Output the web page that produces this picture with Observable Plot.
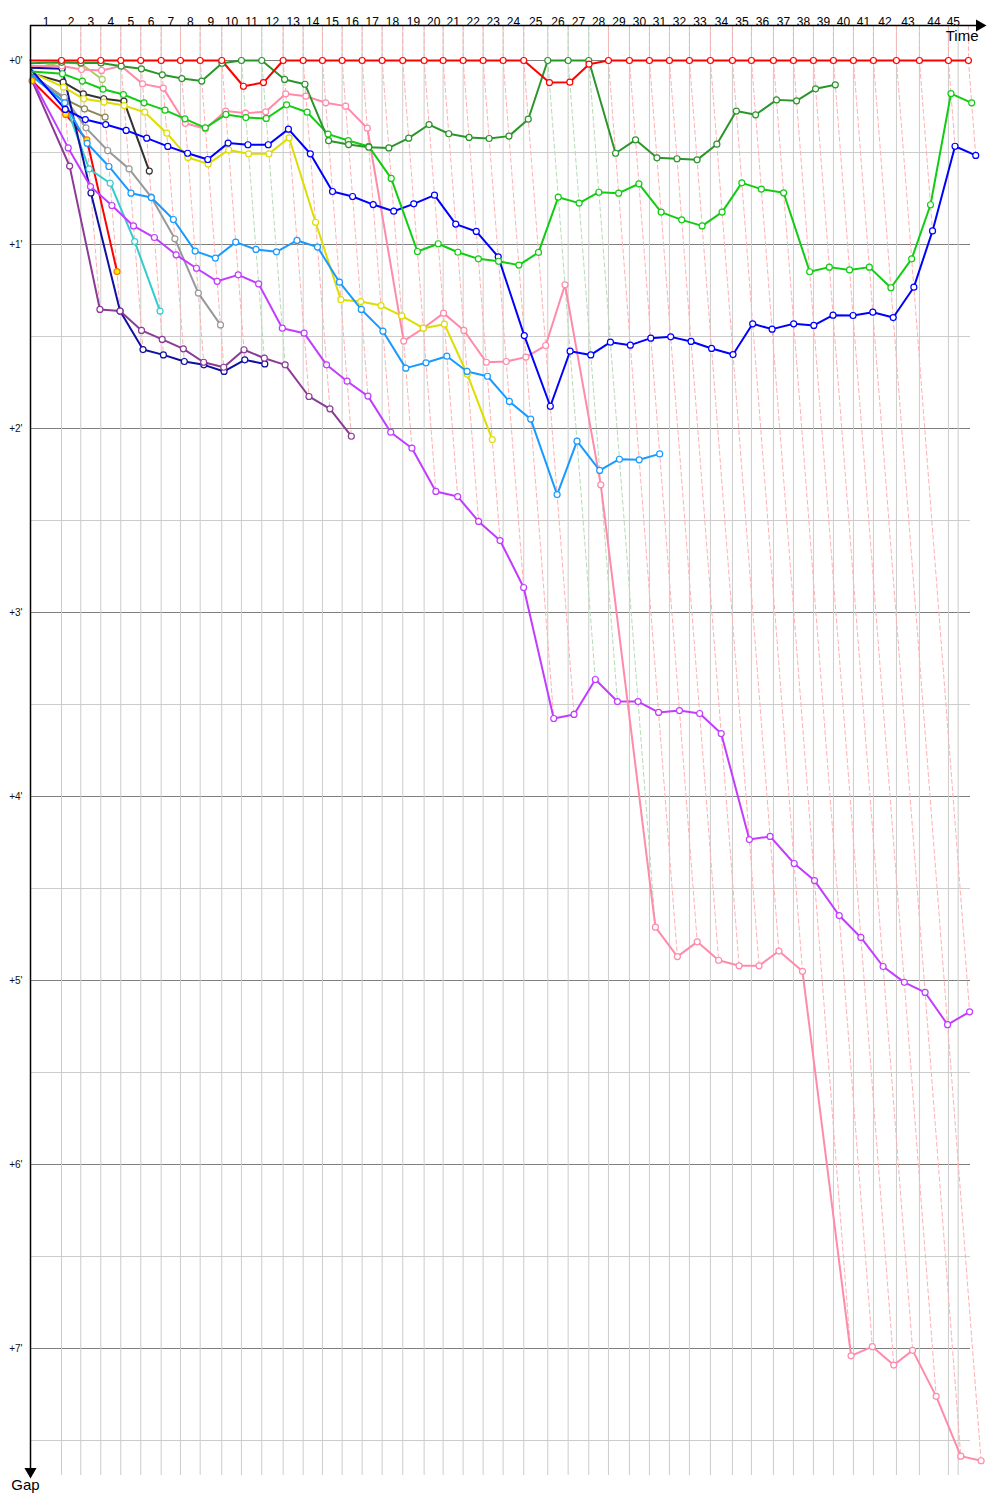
<!DOCTYPE html>
<html><head><meta charset="utf-8">
<script src="https://cdn.jsdelivr.net/npm/d3@7"></script>
<script src="https://cdn.jsdelivr.net/npm/@observablehq/plot@0.6"></script>
<style>
body{margin:0;background:#fff;}
#chart svg{display:block;}
</style>
</head><body><div id="chart"></div>
<script>
// ---- DATA ----
// Leader's lap durations (seconds), laps 1..45
const leaderLapSec = [131.4,81.8,84.8,84.8,84.8,86.5,81.8,83.5,91.6,83.5,86.1,90.7,84.8,81.8,83.5,84.8,84.8,87.4,90.7,80.6,
  84.8,84.8,84.8,87.4,101.8,86.5,87.4,83.5,89.0,84.8,84.8,84.8,89.0,93.3,80.6,93.3,84.8,84.8,84.8,84.8,84.8,97.5,97.5,123.0,84.8];
const greenLedLaps = [10, 11, 25, 26, 27];
const raceEndMin = 65.56;
const lapLabels = d3.range(1, 46);
const gapTicks = [0, 1, 2, 3, 4, 5, 6, 7];
const halfTicks = [0.5, 1.5, 2.5, 3.5, 4.5, 5.5, 6.5, 7.5];

// Gaps to the leader (minutes), index = lap (0 = grid)
const gapsRed = [0, 0,0,0,0,0,0,0,0,0, 0.14,0.12, 0,0,0,0,0,0,0,0,0,0,0,0,0, 0.12,0.118,0.02,
  0,0,0,0,0,0,0,0,0,0,0,0,0,0,0,0,0,0];
const gapsDarkGreen = [0.015, 0.01,0.013,0.013,0.031,0.045,0.078,0.098,0.112,0.015,0,0,0.103,0.129,0.436,0.457,0.471,0.475,
  0.422,0.348,0.398,0.418,0.424,0.411,0.319,0,0,0,0.504,0.431,0.529,0.534,0.54,0.455,0.275,0.295,0.214,0.219,0.154,0.132];
const gapsGreen = [0.06, 0.072,0.112,0.156,0.185,0.23,0.27,0.317,0.366,0.293,0.31,0.315,0.241,0.281,0.40,0.435,0.467,0.641,
  1.038,0.996,1.042,1.078,1.091,1.112,1.043,0.743,0.775,0.716,0.721,0.67,0.824,0.866,0.899,0.824,0.665,0.699,0.719,
  1.148,1.123,1.138,1.123,1.235,1.078,0.784,0.18,0.23];
const gapsBlue = [0.05, 0.266,0.321,0.348,0.38,0.422,0.467,0.504,0.538,0.449,0.458,0.458,0.373,0.507,0.712,0.739,0.783,0.819,
  0.779,0.732,0.889,0.929,1.067,1.495,1.879,1.58,1.6,1.531,1.547,1.509,1.502,1.527,1.565,1.598,1.431,1.46,1.431,1.44,
  1.384,1.386,1.368,1.397,1.232,0.926,0.466,0.516];
const gapsSky = [0.08, 0.23,0.45,0.576,0.721,0.745,0.864,1.036,1.074,0.987,1.027,1.04,0.978,1.014,1.205,1.353,1.471,1.672,
  1.643,1.607,1.69,1.716,1.853,1.949,2.359,2.069,2.228,2.167,2.17,2.138];
const gapsYellow = [0.065, 0.145,0.208,0.226,0.245,0.281,0.395,0.527,0.562,0.486,0.507,0.507,0.42,0.879,1.30,1.31,1.332,1.388,
  1.455,1.433,1.705,2.06];
const gapsPink = [0.03, 0.03,0.049,0.054,0.03,0.127,0.15,0.341,0.371,0.275,0.286,0.279,0.181,0.194,0.23,0.248,0.368,1.525,
  1.455,1.373,1.467,1.64,1.636,1.612,1.549,1.219,2.306,4.71,4.87,4.79,4.89,4.92,4.92,4.84,4.95,7.04,6.99,7.09,7.01,7.26,7.585,7.61];
const gapsViolet = [0.1, 0.475,0.685,0.788,0.899,0.962,1.056,1.129,1.2,1.165,1.214,1.455,1.482,1.654,1.743,1.824,2.02,2.107,
  2.342,2.37,2.505,2.609,2.864,3.576,3.554,3.364,3.484,3.484,3.543,3.533,3.549,3.658,4.234,4.217,4.364,4.457,4.647,4.766,
  4.924,5.01,5.065,5.24,5.17];
const gapsPurple = [0.11, 0.574,1.353,1.362,1.467,1.516,1.567,1.64,1.667,1.572,1.618,1.654,1.826,1.893,2.042];
const gapsNavy = [0.04, 0.045,0.72,1.362,1.571,1.6,1.636,1.654,1.69,1.627,1.649];
const gapsGray = [0.08, 0.2,0.366,0.489,0.589,0.743,0.969,1.264,1.437];
const gapsCyan = [0.085, 0.226,0.589,0.667,0.984,1.362];
const gapsBlack = [0.07, 0.118,0.181,0.208,0.221,0.601];
const gapsOlive = [0.075, 0.208,0.263,0.308];
const gapsLime = [0.045, 0.009,0.018,0.103];
const gapsRed2 = [0.11, 0.293,0.431,1.147];

const driverNames = ["Red2","Lime","Olive","Black","Cyan","Gray","Navy","Purple","Violet","Pink","Yellow","Sky","Blue","Green","DarkGreen","Red"];
const driverGaps = [gapsRed2,gapsLime,gapsOlive,gapsBlack,gapsCyan,gapsGray,gapsNavy,gapsPurple,gapsViolet,gapsPink,gapsYellow,gapsSky,gapsBlue,gapsGreen,gapsDarkGreen,gapsRed];
// styles
const driverColors = ["#ff0000","#aacc66","#88884e","#333333","#33cccc","#999999","#1010a0","#8b3a96","#c23cff","#ff8aaa","#dddd00","#1a9aff","#0000ff","#11cc11","#2a962a","#ff0000"];
const markerStroke = {Red2: "#ff7700"};
const markerFill = {Red2: "#ffee00"};

// ---- BUILD ----
const T = [0];
leaderLapSec.forEach(s => T.push(T[T.length - 1] + s / 60));

const rows = [];
driverNames.forEach((name, k) => {
  driverGaps[k].forEach((g, lap) => {
    if (g == null) return;
    rows.push({driver: name, color: driverColors[k], lap, g, t: T[lap] + g,
      ms: markerStroke[name] || driverColors[k], mf: markerFill[name] || "white"});
  });
});

const pxPerMin = 14.15;
const yTop = -35 / 184, yBottom = 1415 / 184;
const xMax = 940 / pxPerMin;

const lapLines = [];
for (let n = 1; n <= 45; n++) {
  const pts = rows.filter(r => r.lap === n).sort((a, b) => a.g - b.g);
  const col = greenLedLaps.includes(n) ? "#b4dcb4" : "#ffb0b0";
  lapLines.push({lap: n, t: T[n], g: yTop, col});
  lapLines.push({lap: n, t: T[n], g: 0, col});
  pts.forEach(p => lapLines.push({lap: n, t: p.t, g: p.g, col}));
}

const vGrid = T.slice(1, 45).concat([raceEndMin]);
// lap label sits in the middle of its lap; last lap is bounded by the race end
const lapMid = lapLabels.map(n => ({n, t: (T[n - 1] + (n === 45 ? raceEndMin : T[n])) / 2}));

const chart = Plot.plot({
  width: 1000, height: 1500,
  marginLeft: 30, marginRight: 30, marginTop: 25, marginBottom: 25,
  x: {domain: [0, xMax], axis: null},
  y: {domain: [yTop, yBottom], reverse: true, axis: null},
  color: {type: "identity"},
  style: {fontFamily: "'Liberation Sans', Arial, sans-serif", background: "white"},
  marks: [
    Plot.ruleY(halfTicks, {stroke: "#cccccc", strokeWidth: 1}),
    Plot.ruleY(gapTicks, {stroke: "#808080", strokeWidth: 1}),
    Plot.ruleX(vGrid, {stroke: "#cccccc", strokeWidth: 1}),
    Plot.line(lapLines, {x: "t", y: "g", z: "lap", stroke: "col", strokeWidth: 1, strokeDasharray: "4,3"}),
    Plot.line(rows, {x: "t", y: "g", z: "driver", stroke: "color", strokeWidth: 2, strokeLinejoin: "round"}),
    Plot.dot(rows.filter(r => r.lap >= 1 || r.driver === "Red2"), {x: "t", y: "g", r: 3, fill: "mf", stroke: "ms", strokeWidth: 1.2}),
    // axes
    Plot.ruleX([0], {y1: yTop, y2: yBottom - 0.03, stroke: "black", strokeWidth: 1.5}),
    Plot.ruleY([yTop], {x1: 0, x2: 946 / pxPerMin, stroke: "black", strokeWidth: 1.5}),
    Plot.dot([0], {x: d => 949 / pxPerMin, y: () => yTop, symbol: "triangle", rotate: 90, r: 4.5, fill: "black", stroke: "none"}),
    Plot.dot([0], {x: () => 0, y: () => yBottom, symbol: "triangle", rotate: 180, r: 4.5, fill: "black", stroke: "none", dy: -4}),
    Plot.text(lapMid, {x: "t", text: d => String(d.n), frameAnchor: "top", dy: -8, fontSize: 12, fill: "black"}),
    Plot.text(gapTicks, {y: d => d, text: d => `+${d}'`, frameAnchor: "left", dx: -8, textAnchor: "end", fontSize: 10, fill: "#111"}),
    Plot.text(["Time"], {x: () => 948 / pxPerMin, y: () => yTop, dy: 11, textAnchor: "end", fontSize: 15, fill: "black"}),
    Plot.text(["Gap"], {x: () => 0, y: () => yBottom, dy: 10, dx: -5, textAnchor: "middle", fontSize: 15, fill: "black"})
  ]
});
document.getElementById("chart").appendChild(chart);
</script>
</body></html>
